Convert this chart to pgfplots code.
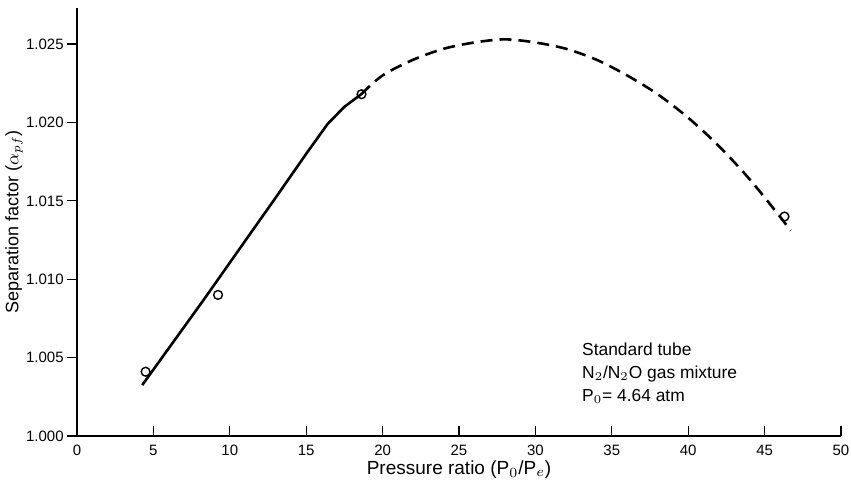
\documentclass[border=0pt]{standalone}
\usepackage{fontspec}
\setmainfont{Liberation Sans}
\usepackage{pgfplots}
\pgfplotsset{compat=1.18}
\usetikzlibrary{calc}
\begin{document}
\begin{tikzpicture}
\begin{axis}[
  scale only axis,
  width=382pt, height=214pt,
  xmin=0, xmax=50, ymin=1.000, ymax=1.0273,
  axis x line=bottom, axis y line=left,
  axis line style={-, line width=0.8pt},
  xtick={0,5,10,15,20,25,30,35,40,45,50},
  ytick={1.000,1.005,1.010,1.015,1.020,1.025},
  xtick align=inside, ytick align=outside,
  major tick length=5pt,
  tick style={line width=0.6pt, black},
  yticklabel style={inner sep=1.5pt, /pgf/number format/.cd, fixed, fixed zerofill, precision=3},
  /pgf/number format/assume math mode=true,
  scaled y ticks=false,
  ticklabel style={font=\fontsize{7.5}{9}\selectfont},
  font=\fontsize{8.5}{10}\selectfont,
  xlabel={Pressure ratio (P$_0$/P$_e$)},
  ylabel={Separation factor ($\alpha_{pf}$)},
  ylabel style={at={(rel axis cs:0,0.5)}, anchor=center, yshift=31.5pt, font=\fontsize{9}{10}\selectfont},
  xlabel style={at={(rel axis cs:0.5,0)}, yshift=-17pt, anchor=center, font=\fontsize{9.5}{11}\selectfont},
  xticklabel style={yshift=-1pt},
  clip=false,
]
\coordinate (ll) at (rel axis cs:0,0);
\coordinate (ur) at (rel axis cs:1,1);
% measured curve (solid)
\addplot[black, line width=1.3pt] coordinates {
  (4.27,1.00325) (8.3,1.0087) (10.9,1.0123) (13.0,1.0152) (15.0,1.0180)
  (16.4,1.0199) (17.5,1.0210) (18.6,1.0218)
};
% extrapolated curve (dashed)
\addplot[black, line width=1.3pt, smooth, dash pattern=on 6pt off 3.5pt] coordinates {
  (18.6,1.0218) (20,1.0230) (22,1.0240) (24,1.0247) (26,1.0251) (28,1.0253)
  (30,1.0251) (32,1.0247) (34,1.0240) (36,1.0230) (38,1.0218) (40,1.0203)
  (42,1.0185) (44,1.0164) (46,1.0140) (46.7,1.0131)
};
% data points
\addplot[only marks, mark=o, mark size=2.2pt, mark options={black, fill=white, line width=0.7pt}] coordinates {
  (4.49,1.0041) (9.23,1.0090) (18.62,1.0218) (46.3,1.0140)
};
\node[anchor=north west, align=left, font=\fontsize{8.7}{11.5}\selectfont]
  at (axis cs:32.6,1.0064) {Standard tube\\N$_2$/N$_2$O gas mixture\\P$_0$= 4.64 atm};
\end{axis}
\pgfresetboundingbox
\path[use as bounding box] ($(ll)+(-38.5pt,-29pt)$) rectangle ($(ur)+(5pt,4pt)$);
\end{tikzpicture}
\end{document}
